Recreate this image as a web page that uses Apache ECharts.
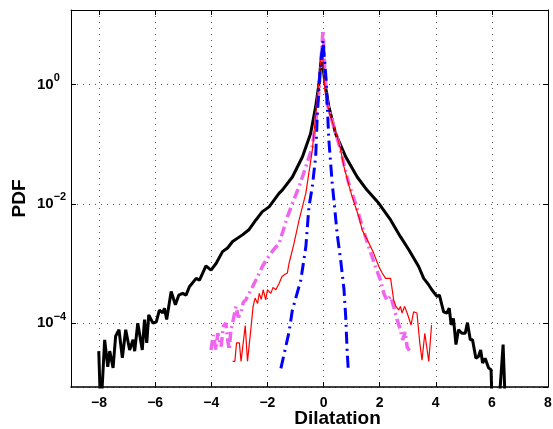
<!DOCTYPE html>
<html><head><meta charset="utf-8">
<script src="https://cdn.jsdelivr.net/npm/echarts@6/dist/echarts.min.js"></script>
<style>html,body{margin:0;padding:0;background:#fff}#c{width:553px;height:429px}</style>
</head><body><div id="c"></div>
<script>
// ---- data (PDF of dilatation) ----
const blackX = [-8.01,-7.94,-7.80,-7.69,-7.62,-7.50,-7.41,-7.29,-7.17,-7.05,-6.91,-6.79,-6.73,-6.62,-6.46,-6.38,-6.30,-6.23,-6.08,-5.96,-5.85,-5.73,-5.67,-5.59,-5.43,-5.28,-5.16,-5.02,-4.90,-4.78,-4.54,-4.42,-4.19,-4.01,-3.83,-3.60,-3.42,-3.24,-2.89,-2.65,-2.41,-2.18,-1.94,-1.58,-1.47,-1.11,-0.75,-0.46,-0.28,-0.16,-0.07,0.05,0.19,0.43,0.79,1.20,1.55,1.97,2.39,2.74,3.04,3.39,3.57,3.75,3.86,3.92,4.04,4.13,4.28,4.40,4.48,4.55,4.63,4.72,4.81,4.93,5.05,5.13,5.23,5.31,5.43,5.52,5.60,5.67,5.76,5.88,5.97,6.02,6.23,6.40,6.49];
const blackY = [3.39e-5,3e-6,5.25e-5,1.86e-5,3.39e-5,1.78e-5,6.03e-5,7.76e-5,2.63e-5,7.76e-5,3.55e-5,5.25e-5,3.39e-5,1.0e-4,3.55e-5,1.15e-4,4.68e-5,1.38e-4,1.0e-4,1.05e-4,1.66e-4,1.48e-4,1.78e-4,1.15e-4,3.39e-4,2.04e-4,2.95e-4,3.16e-4,2.95e-4,4.07e-4,5.62e-4,5.25e-4,9.12e-4,7.76e-4,1.0e-3,1.58e-3,1.82e-3,2.34e-3,3.02e-3,3.72e-3,5.37e-3,7.41e-3,8.91e-3,1.51e-2,1.70e-2,2.82e-2,6.17e-2,0.151,0.427,1.05,3.31,1.05,0.427,0.151,6.17e-2,2.82e-2,1.70e-2,1.02e-2,5.37e-3,2.82e-3,1.70e-3,8.91e-4,5.62e-4,4.37e-4,3.63e-4,3.89e-4,2.82e-4,2.95e-4,1.55e-4,1.48e-4,1.78e-4,9.33e-5,1.20e-4,4.37e-5,7.76e-5,6.76e-5,6.76e-5,1.02e-4,5.25e-5,5.25e-5,2.57e-5,2.75e-5,3.55e-5,2.14e-5,2.57e-5,1.78e-5,1.66e-5,3e-6,3e-6,4.37e-5,3e-6];

const magentaX = [-4.01,-3.93,-3.83,-3.77,-3.65,-3.57,-3.48,-3.41,-3.36,-3.30,-3.22,-3.12,-3.04,-2.94,-2.86,-2.77,-2.65,-2.53,-2.35,-2.18,-2.00,-1.80,-1.58,-1.44,-1.29,-1.09,-0.87,-0.63,-0.40,-0.27,-0.16,-0.09,-0.02,0.05,0.13,0.37,0.61,0.76,0.90,1.14,1.38,1.61,1.85,2.03,2.15,2.26,2.39,2.50,2.62,2.74,2.82,2.91,2.98,3.06];
const magentaY = [3.55e-5,6.31e-5,3.55e-5,6.76e-5,4.07e-5,8.91e-5,1.0e-4,5.01e-5,3.55e-5,7.76e-5,1.12e-4,1.91e-4,1.26e-4,1.48e-4,2.24e-4,2.45e-4,3.16e-4,4.07e-4,6.03e-4,8.91e-4,1.23e-3,1.66e-3,2.19e-3,3.55e-3,6.03e-3,1.07e-2,1.95e-2,4.17e-2,9.12e-2,0.251,0.794,2.51,8.13,1.58,0.479,0.195,7.94e-2,3.98e-2,2.19e-2,1.02e-2,4.17e-3,1.91e-3,8.91e-4,5.25e-4,3.16e-4,2.40e-4,2.82e-4,1.91e-4,1.15e-4,7.76e-5,5.25e-5,7.08e-5,3.98e-5,3.47e-5];

const redX = [-3.24,-3.16,-3.10,-3.00,-2.94,-2.79,-2.71,-2.59,-2.51,-2.44,-2.35,-2.29,-2.22,-2.15,-2.06,-2.00,-1.88,-1.80,-1.70,-1.58,-1.48,-1.40,-1.29,-1.23,-1.05,-0.87,-0.63,-0.40,-0.22,-0.13,-0.05,0.05,0.19,0.49,0.61,0.73,0.91,1.02,1.26,1.38,1.62,1.79,1.97,2.09,2.21,2.39,2.50,2.58,2.68,2.74,2.80,2.89,2.98,3.04,3.12,3.21,3.33,3.43,3.51,3.61,3.75,3.85];
const redY = [2.29e-5,2.29e-5,4.68e-5,4.68e-5,2.29e-5,9.12e-5,2.29e-5,7.94e-5,1.91e-4,2.63e-4,2.14e-4,3.16e-4,2.51e-4,3.63e-4,2.45e-4,3.63e-4,3.16e-4,3.98e-4,3.63e-4,4.68e-4,6.03e-4,6.46e-4,6.92e-4,1.0e-3,2.19e-3,5.37e-3,1.51e-2,7.94e-2,0.617,1.78,4.57,0.794,0.355,0.132,7.94e-2,4.17e-2,2.0e-2,1.32e-2,6.03e-3,3.63e-3,2.19e-3,1.48e-3,8.91e-4,6.92e-4,5.62e-4,5.62e-4,2.45e-4,1.91e-4,1.66e-4,1.91e-4,1.48e-4,1.91e-4,1.48e-4,1.48e-4,9.33e-5,1.55e-4,1.48e-4,4.68e-5,2.40e-5,6.76e-5,2.29e-5,9.33e-5];

const blueX = [-1.52,-1.23,-1.11,-0.81,-0.63,-0.52,-0.40,-0.28,-0.22,-0.13,-0.02,0.09,0.13,0.19,0.31,0.37,0.49,0.61,0.73,0.79,0.84,0.88];
const blueY = [1.74e-5,7.08e-5,1.66e-4,5.25e-4,1.91e-3,8.91e-3,1.95e-2,6.17e-2,0.324,1.58,5.50,1.26,0.479,0.117,2.19e-2,1.15e-2,3.02e-3,1.15e-3,3.63e-4,1.29e-4,3.55e-5,1.70e-5];

const xRange = [-9, 8];
const yRange = [8.5e-6, 17.8];
const xName = 'Dilatation';
const yName = 'PDF';

// ---- chart ----
const FONT = '"Liberation Sans", Arial, Helvetica, sans-serif';
function zip(xs, ys) { return xs.map((x, i) => [x, ys[i]]); }
const chart = echarts.init(document.getElementById('c'), null, { renderer: 'canvas' });

const tick = { show: true, inside: true, length: 5, lineStyle: { color: '#000', width: 1 } };
const frame = { show: true, onZero: false, lineStyle: { color: '#000', width: 1 } };
const grid = { show: true, lineStyle: { color: '#555', width: 1, type: [1, 5] } };

function yLabel(v) {
  const l = Math.log10(v);
  const e = Math.round(l);
  if (Math.abs(l - e) > 1e-6) return '';
  return '10{s|' + (e < 0 ? '\u2212' + (-e) : String(e)) + '}';
}

const option = {
  animation: false,
  backgroundColor: '#fff',
  grid: { left: 71, top: 10, right: 5, bottom: 42, outerBoundsMode: 'none', containLabel: false },
  xAxis: [
    {
      type: 'value', min: xRange[0], max: xRange[1], splitNumber: 8, position: 'bottom',
      axisLine: { show: true, onZero: false, lineStyle: { color: '#000', width: 1.5 } },
      axisTick: tick,
      axisLabel: {
        show: true, margin: 9, fontSize: 14, fontWeight: 'bold', fontFamily: FONT, color: '#000',
        showMinLabel: false, hideOverlap: false,
        formatter: v => (v < 0 ? '\u2212' + (-v) : String(v))
      },
      splitLine: grid,
      name: xName, nameLocation: 'middle', nameGap: 22, nameMoveOverlap: false,
      nameTextStyle: { fontSize: 19, fontWeight: 'bold', fontFamily: FONT, color: '#000', padding: [0, 0, 0, 56] }
    },
    {
      type: 'value', min: xRange[0], max: xRange[1], splitNumber: 8, position: 'top',
      axisLine: frame, axisTick: tick, axisLabel: { show: false }, splitLine: { show: false }
    }
  ],
  yAxis: [
    {
      type: 'log', logBase: 100, min: yRange[0], max: yRange[1], position: 'left',
      axisLine: frame, axisTick: tick,
      axisLabel: {
        show: true, margin: 34, align: 'left', color: '#000', fontFamily: FONT, fontWeight: 'bold',
        fontSize: 15, lineHeight: 24, showMinLabel: false, showMaxLabel: false,
        formatter: yLabel,
        rich: { s: { fontSize: 11, fontWeight: 'bold', fontFamily: FONT, color: '#000', lineHeight: 9, verticalAlign: 'top' } }
      },
      splitLine: grid,
      name: yName, nameLocation: 'middle', nameGap: 42, nameRotate: 90, nameMoveOverlap: false,
      nameTextStyle: { fontSize: 19, fontWeight: 'bold', fontFamily: FONT, color: '#000' }
    },
    {
      type: 'log', logBase: 100, min: yRange[0], max: yRange[1], position: 'right',
      axisLine: frame, axisTick: tick, axisLabel: { show: false }, splitLine: { show: false }
    }
  ],
  series: [
    { type: 'line', name: 'black', data: zip(blackX, blackY), showSymbol: false, symbol: 'none', clip: true,
      lineStyle: { color: '#000', width: 3 } },
    { type: 'line', name: 'magenta', data: zip(magentaX, magentaY), showSymbol: false, symbol: 'none', clip: true,
      lineStyle: { color: '#ee66ee', width: 3.5, type: [10, 4, 2, 4] } },
    { type: 'line', name: 'red', data: zip(redX, redY), showSymbol: false, symbol: 'none', clip: true,
      lineStyle: { color: '#ff0000', width: 1.2 } },
    { type: 'line', name: 'blue', data: zip(blueX, blueY), showSymbol: false, symbol: 'none', clip: true,
      lineStyle: { color: '#0000ff', width: 3, type: [12, 5, 2, 5] } }
  ]
};
chart.setOption(option);
</script>
</body></html>
